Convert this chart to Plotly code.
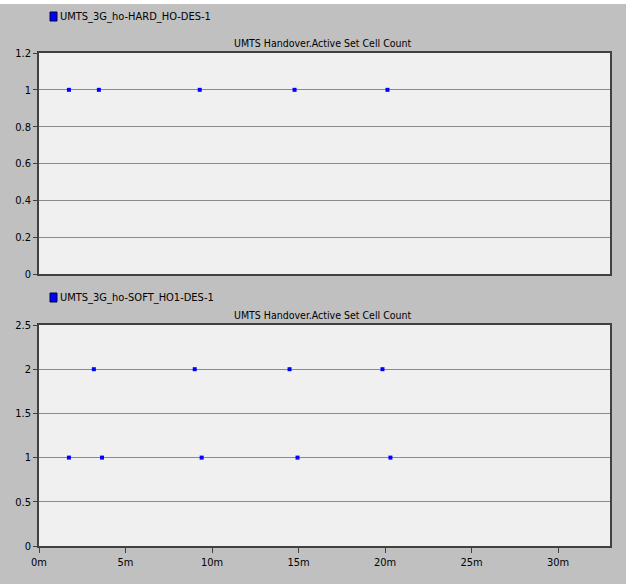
import plotly.graph_objects as go

# Data (time in minutes)
hard_x = [1.73, 3.46, 9.29, 14.77, 20.14]
hard_y = [1, 1, 1, 1, 1]
soft_x = [1.73, 3.17, 3.64, 9.0, 9.4, 14.48, 14.94, 19.85, 20.31]
soft_y = [1, 2, 1, 2, 1, 2, 1, 2, 1]

series_names = ["UMTS_3G_ho-HARD_HO-DES-1", "UMTS_3G_ho-SOFT_HO1-DES-1"]
panel_title = "UMTS Handover.Active Set Cell Count"
x_tickvals = [0, 5, 10, 15, 20, 25, 30]
x_ticktext = ["0m", "5m", "10m", "15m", "20m", "25m", "30m"]
top_ticks = [0, 0.2, 0.4, 0.6, 0.8, 1, 1.2]
top_ticktext = ["0", "0.2", "0.4", "0.6", "0.8", "1", "1.2"]
bot_ticks = [0, 0.5, 1, 1.5, 2, 2.5]
bot_ticktext = ["0", "0.5", "1", "1.5", "2", "2.5"]

W, H = 626, 584
FONT = "Liberation Sans Narrow, DejaVu Sans Condensed, Arial Narrow, sans-serif"

def px_x(p):
    return p / W

def px_y(p):
    return 1 - p / H

fig = go.Figure()
fig.add_trace(go.Scatter(x=hard_x, y=hard_y, mode="markers", xaxis="x", yaxis="y",
                         marker=dict(symbol="square", size=4, color="#0000ff"),
                         name=series_names[0], showlegend=False))
fig.add_trace(go.Scatter(x=soft_x, y=soft_y, mode="markers", xaxis="x2", yaxis="y2",
                         marker=dict(symbol="square", size=4, color="#0000ff"),
                         name=series_names[1], showlegend=False))

xdom = [px_x(39), px_x(610)]
common_x = dict(range=[0, 33], domain=xdom, showgrid=False, zeroline=False, automargin=False,
                showline=True, linecolor="#404040", linewidth=1.5, mirror=True,
                tickvals=x_tickvals, ticktext=x_ticktext,
                tickfont=dict(family=FONT, size=11, color="#000"))
common_y = dict(showgrid=True, gridcolor="#8a8a8a", gridwidth=1, zeroline=False, automargin=False,
                showline=True, linecolor="#404040", linewidth=1.5, mirror=True,
                ticks="outside", ticklen=4, tickcolor="#404040",
                tickfont=dict(family=FONT, size=11, color="#000"))

fig.update_layout(
    width=W, height=H,
    margin=dict(l=0, r=0, t=0, b=0, pad=0),
    paper_bgcolor="#c0c0c0",
    plot_bgcolor="#f0f0f0",
    showlegend=False,
    xaxis=dict(common_x, anchor="y", showticklabels=False, ticks=""),
    yaxis=dict(common_y, anchor="x", domain=[px_y(274), px_y(53)], range=[0, 1.2],
               tickvals=top_ticks, ticktext=top_ticktext),
    xaxis2=dict(common_x, anchor="y2", ticks="outside", ticklen=5, tickcolor="#404040"),
    yaxis2=dict(common_y, anchor="x2", domain=[px_y(546), px_y(325)], range=[0, 2.5],
                tickvals=bot_ticks, ticktext=bot_ticktext),
)

shapes = [
    dict(type="rect", xref="paper", yref="paper", x0=0, x1=1, y0=px_y(4), y1=1,
         fillcolor="white", line=dict(width=0), layer="below"),
]
annotations = []
for name, ly, ty in [(series_names[0], 16, 43), (series_names[1], 297, 315)]:
    shapes.append(dict(type="rect", xref="paper", yref="paper",
                       x0=px_x(50), x1=px_x(57), y0=px_y(ly + 5), y1=px_y(ly - 4),
                       fillcolor="#0000ff", line=dict(color="#000040", width=1)))
    annotations.append(dict(text=name, xref="paper", yref="paper", x=px_x(58), y=px_y(ly),
                            xanchor="left", yanchor="middle", showarrow=False,
                            font=dict(family=FONT, size=11, color="#000")))
    annotations.append(dict(text=panel_title, xref="paper", yref="paper", x=px_x(323), y=px_y(ty),
                            xanchor="center", yanchor="middle", showarrow=False,
                            font=dict(family=FONT, size=10.5, color="#000")))

fig.update_layout(shapes=shapes, annotations=annotations)
fig.write_html("out.html", config={"displayModeBar": False},
               post_script="document.body.style.margin='0';document.body.style.overflow='hidden';")
